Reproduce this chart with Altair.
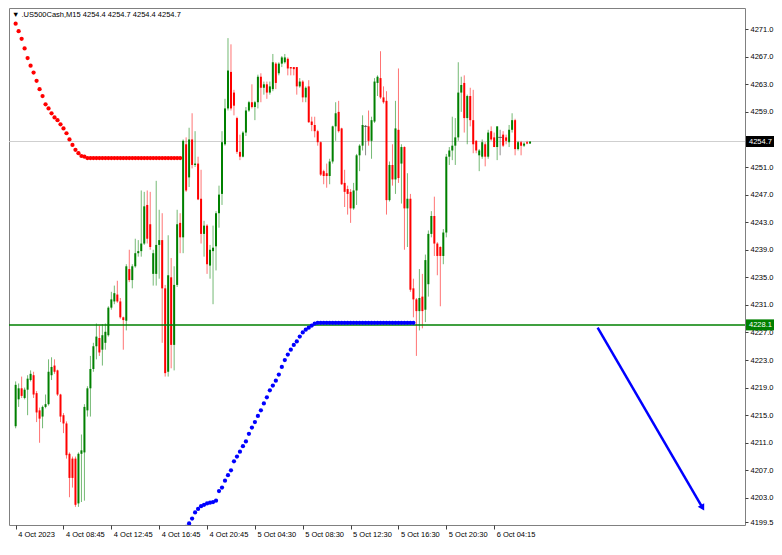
import json
import altair as alt
import pandas as pd

# ---------------- data ----------------
opens = [4213.4, 4217.3, 4218.9, 4217.5, 4218.7, 4220.1, 4220.8, 4218.2, 4215.7, 4214.8,
         4216.2, 4216.6, 4220.8, 4222.2, 4221.5, 4218.0, 4215.0, 4213.8, 4209.4, 4208.7,
         4208.7, 4202.2, 4209.4, 4209.6, 4215.7, 4218.9, 4221.7, 4225.0, 4226.2, 4224.5,
         4225.5, 4226.6, 4230.6, 4231.5, 4232.5, 4231.5, 4229.2, 4228.7, 4236.2, 4234.6,
         4236.6, 4238.5, 4238.8, 4239.9, 4245.5, 4242.7, 4235.5, 4235.5, 4239.7, 4240.4,
         4233.4, 4221.3, 4235.0, 4225.2, 4233.9, 4242.9, 4240.8, 4254.3, 4249.5, 4255.0,
         4251.3, 4251.5, 4246.4, 4241.3, 4242.5, 4236.7, 4238.8, 4239.5, 4244.3, 4247.1,
         4254.3, 4259.5, 4264.8, 4261.8, 4258.1, 4253.2, 4252.5, 4256.0, 4259.2, 4260.4,
         4259.7, 4260.4, 4264.1, 4262.5, 4263.0, 4261.8, 4262.3, 4266.0, 4264.6, 4266.0,
         4266.2, 4266.7, 4265.5, 4265.5, 4265.5, 4262.7, 4263.4, 4261.1, 4262.7, 4257.6,
         4257.1, 4256.2, 4254.6, 4250.4, 4250.1, 4249.7, 4251.8, 4256.9, 4259.0, 4256.6,
         4248.7, 4247.8, 4247.4, 4245.0, 4247.6, 4252.7, 4254.1, 4256.9, 4256.9, 4254.8,
         4257.6, 4263.2, 4263.9, 4261.1, 4260.6, 4246.2, 4251.3, 4249.2, 4256.4, 4251.5,
         4253.9, 4245.0, 4246.4, 4233.4, 4231.8, 4230.1, 4232.2, 4230.3, 4234.0, 4241.3,
         4243.9, 4239.9, 4239.4, 4238.1, 4241.5, 4252.5, 4253.4, 4254.1, 4255.3, 4261.8,
         4263.2, 4258.1, 4261.3, 4257.8, 4254.8, 4252.7, 4252.5, 4254.3, 4252.5, 4256.2,
         4255.3, 4253.9, 4255.3, 4255.7, 4255.3, 4254.6, 4256.4, 4257.8, 4253.6, 4254.6,
         4254.1, 4254.6, 4254.4]
highs = [4219.9, 4219.6, 4220.6, 4219.0, 4220.8, 4221.5, 4221.3, 4218.5, 4216.1, 4216.4,
         4218.0, 4223.1, 4223.4, 4223.1, 4221.6, 4218.1, 4215.3, 4214.1, 4209.6, 4209.0,
         4209.0, 4209.6, 4212.2, 4216.6, 4219.2, 4223.6, 4225.5, 4228.3, 4228.0, 4228.2,
         4228.3, 4230.8, 4232.9, 4233.8, 4234.5, 4232.0, 4229.3, 4236.9, 4239.0, 4236.9,
         4240.6, 4240.4, 4247.6, 4247.4, 4247.6, 4247.4, 4239.0, 4249.0, 4244.8, 4244.3,
         4233.9, 4241.1, 4237.8, 4236.6, 4244.8, 4244.3, 4255.0, 4255.3, 4256.7, 4258.8,
         4256.2, 4252.5, 4250.6, 4243.2, 4242.7, 4239.7, 4242.5, 4244.6, 4248.3, 4256.2,
         4260.9, 4269.7, 4268.8, 4262.2, 4258.3, 4255.7, 4256.2, 4259.7, 4260.6, 4263.0,
         4260.6, 4264.4, 4264.6, 4263.4, 4263.4, 4263.4, 4267.4, 4266.2, 4266.2, 4267.1,
         4267.4, 4266.9, 4265.5, 4265.5, 4265.5, 4263.9, 4263.6, 4262.7, 4263.6, 4258.3,
         4258.3, 4256.4, 4254.7, 4250.6, 4251.5, 4252.2, 4257.0, 4260.4, 4260.6, 4256.7,
         4250.6, 4248.3, 4247.8, 4248.7, 4252.9, 4254.3, 4258.5, 4257.1, 4259.2, 4258.3,
         4263.9, 4264.3, 4267.8, 4262.7, 4262.0, 4251.8, 4254.3, 4260.6, 4265.3, 4254.3,
         4254.0, 4250.1, 4247.1, 4234.8, 4232.0, 4236.2, 4235.5, 4238.3, 4241.8, 4244.6,
         4246.7, 4240.1, 4239.5, 4242.0, 4252.9, 4253.9, 4258.3, 4258.1, 4266.2, 4264.1,
         4264.3, 4261.5, 4262.5, 4262.2, 4254.9, 4253.6, 4255.0, 4254.6, 4256.4, 4256.9,
         4256.0, 4256.9, 4256.4, 4256.2, 4255.7, 4257.1, 4258.8, 4258.0, 4254.8, 4254.8,
         4254.6, 4254.8, 4254.7]
lows = [4213.1, 4216.2, 4217.5, 4217.3, 4215.0, 4219.9, 4217.5, 4214.0, 4211.0, 4213.1,
        4216.0, 4216.4, 4220.1, 4221.0, 4217.8, 4214.0, 4212.4, 4208.7, 4203.1, 4204.5,
        4201.7, 4201.7, 4202.4, 4202.6, 4214.8, 4214.8, 4221.3, 4223.1, 4223.6, 4222.2,
        4224.5, 4226.4, 4230.3, 4231.1, 4231.3, 4229.0, 4224.5, 4227.3, 4234.3, 4233.4,
        4236.4, 4238.0, 4238.0, 4239.7, 4239.9, 4239.0, 4233.8, 4233.8, 4234.8, 4225.5,
        4220.6, 4220.6, 4221.8, 4221.5, 4233.6, 4238.5, 4238.5, 4247.4, 4248.1, 4250.8,
        4251.0, 4246.2, 4239.9, 4238.0, 4235.5, 4234.8, 4231.1, 4236.0, 4242.2, 4245.5,
        4254.1, 4259.2, 4259.2, 4258.5, 4252.9, 4252.0, 4252.4, 4255.5, 4259.0, 4259.5,
        4257.8, 4259.5, 4260.4, 4261.5, 4260.9, 4261.5, 4262.0, 4262.3, 4264.3, 4265.5,
        4266.0, 4264.3, 4264.3, 4264.3, 4261.5, 4262.5, 4260.4, 4260.4, 4257.4, 4256.2,
        4255.3, 4254.1, 4249.7, 4248.5, 4248.0, 4248.5, 4251.5, 4254.8, 4256.0, 4248.4,
        4245.2, 4244.1, 4242.9, 4244.8, 4245.5, 4250.4, 4253.4, 4252.7, 4254.1, 4252.2,
        4257.4, 4261.3, 4260.9, 4260.2, 4244.1, 4246.0, 4248.3, 4247.1, 4248.7, 4245.7,
        4239.0, 4239.4, 4232.9, 4229.2, 4223.6, 4227.3, 4227.6, 4228.5, 4232.2, 4240.8,
        4238.1, 4235.3, 4230.8, 4236.9, 4240.8, 4251.3, 4252.0, 4251.3, 4254.8, 4259.0,
        4256.0, 4254.3, 4256.9, 4253.0, 4253.0, 4250.4, 4252.2, 4251.1, 4252.2, 4254.8,
        4253.9, 4252.0, 4252.7, 4253.9, 4254.3, 4253.9, 4256.0, 4252.7, 4253.4, 4252.7,
        4253.9, 4254.3, 4254.4]
closes = [4219.4, 4218.9, 4217.8, 4218.7, 4220.3, 4221.0, 4218.0, 4215.4, 4214.5, 4216.2,
          4216.6, 4221.3, 4222.0, 4221.3, 4218.0, 4214.8, 4213.8, 4209.2, 4205.9, 4205.9,
          4202.0, 4209.4, 4209.9, 4216.2, 4218.9, 4221.7, 4225.0, 4226.4, 4224.1, 4226.6,
          4227.1, 4230.6, 4231.8, 4232.7, 4231.5, 4229.2, 4228.8, 4236.6, 4234.6, 4236.6,
          4238.5, 4238.8, 4239.9, 4245.3, 4240.6, 4239.4, 4238.5, 4239.7, 4240.4, 4233.4,
          4221.1, 4235.3, 4225.2, 4233.9, 4242.7, 4240.8, 4254.8, 4247.6, 4255.0, 4251.3,
          4251.5, 4246.3, 4241.3, 4242.5, 4236.9, 4239.0, 4239.3, 4244.3, 4247.0, 4254.6,
          4259.5, 4265.0, 4259.5, 4259.9, 4253.2, 4252.5, 4256.0, 4259.2, 4260.4, 4259.7,
          4260.4, 4264.1, 4262.5, 4263.0, 4261.8, 4262.7, 4266.2, 4263.2, 4266.0, 4266.9,
          4266.9, 4265.3, 4265.3, 4265.2, 4262.7, 4263.4, 4261.1, 4262.5, 4257.5, 4257.1,
          4256.2, 4254.6, 4249.9, 4249.7, 4249.7, 4251.8, 4256.9, 4258.8, 4256.2, 4248.5,
          4247.4, 4247.1, 4245.0, 4247.6, 4252.7, 4254.1, 4257.1, 4256.9, 4254.8, 4257.8,
          4263.4, 4264.1, 4261.1, 4260.4, 4246.2, 4251.3, 4249.2, 4256.6, 4249.4, 4253.9,
          4245.0, 4246.4, 4233.2, 4231.8, 4230.1, 4232.0, 4230.1, 4237.5, 4241.3, 4243.9,
          4239.9, 4238.1, 4238.1, 4241.5, 4252.5, 4253.4, 4254.1, 4255.3, 4261.8, 4262.9,
          4258.1, 4261.3, 4257.8, 4254.3, 4253.4, 4253.4, 4254.6, 4252.5, 4256.0, 4255.0,
          4253.9, 4256.9, 4255.3, 4254.1, 4254.8, 4256.4, 4257.8, 4253.6, 4254.6, 4254.1,
          4254.4, 4254.4, 4254.7]

# red dotted indicator (bars 0..55)
red_start = 0
red_dots = [4271.8, 4270.7, 4269.6, 4268.2, 4266.8, 4265.7, 4264.7, 4263.5, 4262.3, 4261.3,
            4260.1, 4259.5, 4258.8, 4258.2, 4257.8, 4257.2, 4256.6, 4255.9, 4255.0, 4254.2,
            4253.5, 4253.0, 4252.6, 4252.5] + [4252.3] * 32
# blue dotted indicator (bars 57..133)
blue_start = 57
blue_dots = [4198.8, 4199.3, 4200.0, 4200.9, 4201.4, 4201.8, 4202.0, 4202.2, 4202.3, 4202.4,
             4202.6, 4204.0, 4204.5, 4205.5, 4206.3, 4207.0, 4208.3, 4209.0, 4209.7, 4210.5,
             4211.2, 4212.3, 4213.2, 4214.0, 4214.9, 4215.7, 4216.7, 4217.6, 4218.6, 4219.3,
             4220.0, 4220.9, 4222.0, 4223.0, 4223.8, 4224.5, 4225.2, 4225.7, 4226.4, 4227.0,
             4227.4, 4227.7, 4228.0, 4228.3] + [4228.4] * 33

# forecast arrow (bar index, price)
arrow_bars = [194.6, 229.5]
arrow_prices = [4227.7, 4201.7]

current_price = 4254.7
level_price = 4228.1

x_tick_idx = [0, 16, 32, 48, 64, 80, 96, 112, 128, 144, 160]
x_labels = ["4 Oct 2023", "4 Oct 08:45", "4 Oct 12:45", "4 Oct 16:45", "4 Oct 20:45",
            "5 Oct 04:30", "5 Oct 08:30", "5 Oct 12:30", "5 Oct 16:30", "5 Oct 20:30",
            "6 Oct 04:15"]
y_ticks = [4271.0, 4267.0, 4263.0, 4259.0, 4251.0, 4247.0, 4243.0, 4239.0, 4235.0, 4231.0,
           4227.0, 4223.0, 4219.0, 4215.0, 4211.0, 4207.0, 4203.0, 4199.5]
title_text = "\u25BC  .US500Cash,M15  4254.4 4254.7 4254.4 4254.7"

# ---------------- build ----------------
n = len(opens)
df = pd.DataFrame({"idx": list(range(n)), "o": opens, "h": highs, "l": lows, "c": closes})
df["dir"] = ["up" if c > o else ("down" if c < o else "flat") for o, c in zip(opens, closes)]

red_df = pd.DataFrame({"idx": list(range(red_start, red_start + len(red_dots))), "p": red_dots})
blue_df = pd.DataFrame({"idx": list(range(blue_start, blue_start + len(blue_dots))), "p": blue_dots})
arrow_df = pd.DataFrame({"idx": arrow_bars, "p": arrow_prices})
arrow_tip = arrow_df.tail(1)
cur_df = pd.DataFrame({"p": [current_price]})
lvl_df = pd.DataFrame({"p": [level_price]})
tag_df = pd.DataFrame({"p": [current_price, level_price],
                       "txt": [f"{current_price:.1f}", f"{level_price:.1f}"],
                       "bg": ["#000000", "#008000"]})
title_df = pd.DataFrame({"t": [title_text]})

W, H = 736, 517
FONT = "Liberation Sans"
xs = alt.Scale(domain=[-0.55, 242.2], nice=False, zero=False)
ys = alt.Scale(domain=[4199.07, 4274.07], nice=False, zero=False)

x_axis = alt.Axis(values=x_tick_idx, orient="bottom", title=None, grid=False,
                  labelExpr=json.dumps(x_labels) + "[round(datum.value / 16)]",
                  labelAlign="left", labelOffset=2, labelFontSize=7.5, labelFont=FONT,
                  labelColor="#000000", tickColor="#404040", tickSize=4, labelPadding=1,
                  domain=False, labelOverlap=False, labelFlush=False)
y_axis = alt.Axis(values=y_ticks, orient="right", title=None, grid=False, format=".1f",
                  labelFontSize=7.5, labelFont=FONT, labelColor="#000000",
                  tickColor="#404040", tickSize=3, labelPadding=2, domain=False,
                  labelOverlap=False, labelFlush=False)


def X():
    return alt.X("idx:Q", scale=xs, axis=x_axis)


def Y(field):
    return alt.Y(field, scale=ys, axis=y_axis)


color = alt.Color("dir:N", legend=None,
                  scale=alt.Scale(domain=["up", "down", "flat"],
                                  range=["#008000", "#ff0000", "#333333"]))

wicks = alt.Chart(df).mark_rule(strokeWidth=1, opacity=0.55, clip=True).encode(
    x=X(), y=Y("l:Q"), y2="h:Q", color=color)

gray = alt.Chart(cur_df).mark_rule(color="#cfcfcf", strokeWidth=1).encode(y=Y("p:Q"))

bodies = alt.Chart(df).mark_bar(size=2, clip=True).encode(
    x=X(), y=Y("o:Q"), y2="c:Q", color=color)

dojis = alt.Chart(df).transform_filter("datum.dir == 'flat'").mark_tick(
    orient="horizontal", size=4, thickness=1, clip=True).encode(
    x=X(), y=Y("c:Q"), color=color)

green = alt.Chart(lvl_df).mark_rule(color="#008000", strokeWidth=1.5).encode(y=Y("p:Q"))

red = alt.Chart(red_df).mark_circle(size=18, color="#ff0000", opacity=1, clip=True).encode(
    x=X(), y=Y("p:Q"))

blue = alt.Chart(blue_df).mark_circle(size=18, color="#0000ff", opacity=1, clip=True).encode(
    x=X(), y=Y("p:Q"))

arrow_line = alt.Chart(arrow_df).mark_line(color="#0000ff", strokeWidth=2.5).encode(
    x=X(), y=Y("p:Q"))

arrow_head = alt.Chart(arrow_tip).mark_point(shape="triangle", angle=150, filled=True,
                                             size=55, color="#0000ff", opacity=1).encode(
    x=X(), y=Y("p:Q"))

title = alt.Chart(title_df).mark_text(align="left", baseline="middle", fontSize=7.5,
                                      font=FONT, color="#000000").encode(
    x=alt.value(3), y=alt.value(7), text="t:N")

tag_rect = alt.Chart(tag_df).mark_rect(yOffset=-5.5, y2Offset=5.5, clip=False).encode(
    x=alt.value(W + 1), x2=alt.value(W + 29),
    y=Y("p:Q"), y2="p:Q",
    color=alt.Color("bg:N", scale=None))

tag_text = alt.Chart(tag_df).mark_text(align="left", baseline="middle", fontSize=7.5,
                                       font=FONT, color="#ffffff", clip=False).encode(
    x=alt.value(W + 4), y=Y("p:Q"), text="txt:N")

chart = alt.layer(
    gray, wicks, bodies, dojis, green, red, blue, arrow_line, arrow_head, title,
    tag_rect, tag_text
).properties(width=W, height=H, padding=0, background="#ffffff").configure_view(
    stroke="#808080", strokeWidth=1)

chart.save("out.html", embed_options={"renderer": "svg", "actions": False})
